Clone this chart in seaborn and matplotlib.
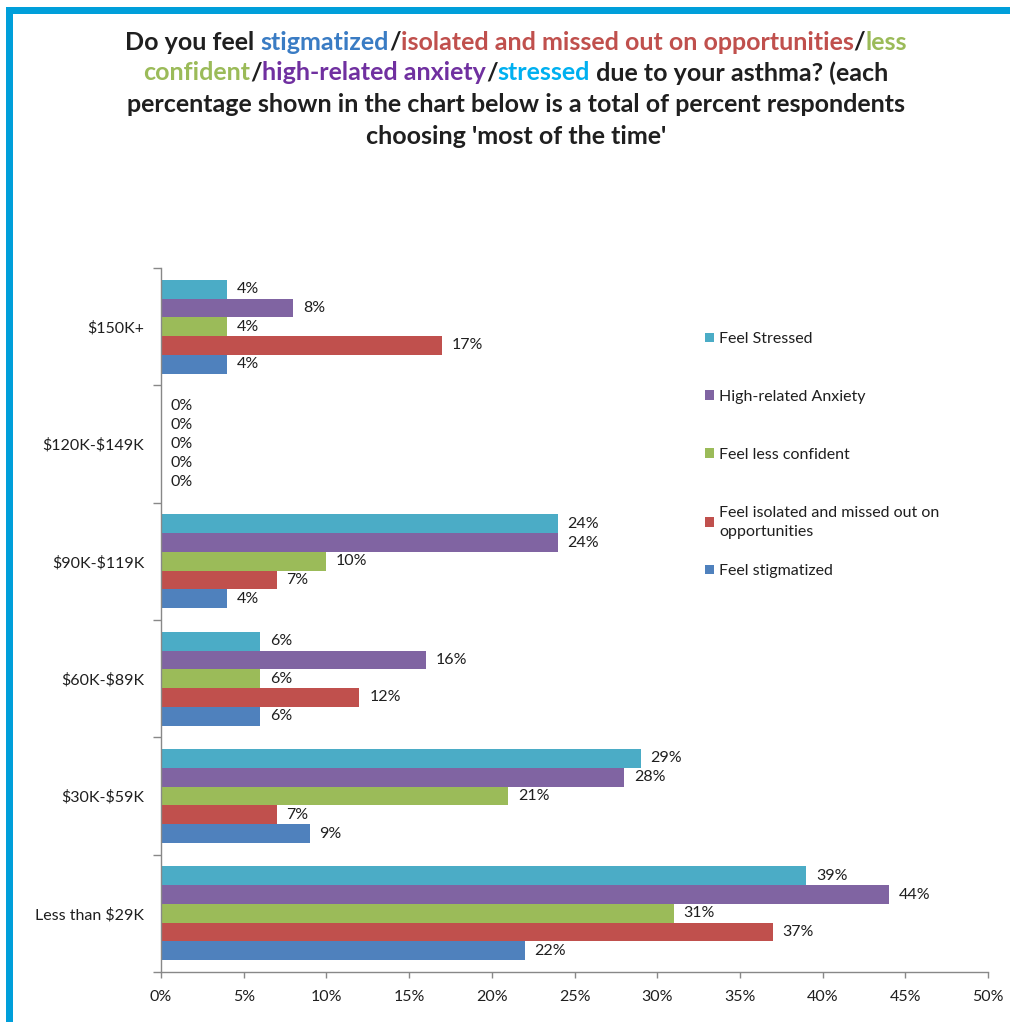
import matplotlib
matplotlib.use("Agg")
import matplotlib.pyplot as plt
from matplotlib.patches import Rectangle
import seaborn as sns
import pandas as pd

# ---- data -------------------------------------------------------------
income_groups = ["$150K+", "$120K-$149K", "$90K-$119K", "$60K-$89K",
                 "$30K-$59K", "Less than $29K"]
series_names = ["Feel Stressed", "High-related Anxiety", "Feel less confident",
                "Feel isolated and missed out on\nopportunities", "Feel stigmatized"]
feel_stressed = [4, 0, 24, 6, 29, 39]
high_anxiety = [8, 0, 24, 16, 28, 44]
less_confident = [4, 0, 10, 6, 21, 31]
isolated_missed = [17, 0, 7, 12, 7, 37]
stigmatized = [4, 0, 4, 6, 9, 22]
x_tick_values = [0, 5, 10, 15, 20, 25, 30, 35, 40, 45, 50]
x_tick_labels = ["0%", "5%", "10%", "15%", "20%", "25%", "30%", "35%", "40%", "45%", "50%"]

series_colors = ["#4BACC6", "#8064A2", "#9BBB59", "#C0504D", "#4F81BD"]
TEXT = "#1f1f1f"
SMALL = 11.5

# ---- style ------------------------------------------------------------
sns.set_theme(style="white")
plt.rcParams["font.family"] = ["Lato", "DejaVu Sans"]
plt.rcParams["text.parse_math"] = False

W, H = 1010, 1022
fig = plt.figure(figsize=(W / 100, H / 100), dpi=100)
fig.patch.set_facecolor("white")

# frame strips along the top and left edges
border = "#009FDA"
fig.add_artist(Rectangle((6 / W, 1 - 14 / H), 1 - 6 / W, 7 / H,
                         transform=fig.transFigure, color=border, lw=0))
fig.add_artist(Rectangle((6 / W, 0), 7 / W, 1 - 7 / H,
                         transform=fig.transFigure, color=border, lw=0))

# ---- bars -------------------------------------------------------------
records = []
for name, vals in zip(series_names, [feel_stressed, high_anxiety, less_confident,
                                     isolated_missed, stigmatized]):
    for grp, v in zip(income_groups, vals):
        records.append({"income": grp, "pct": v, "series": name})
df = pd.DataFrame(records)

ax = fig.add_axes([161 / W, 50 / H, 827 / W, 704 / H])
sns.barplot(data=df, y="income", x="pct", hue="series", orient="h",
            order=income_groups, hue_order=series_names,
            palette=series_colors, saturation=1, width=0.8,
            linewidth=0, ax=ax, errorbar=None)

for cont, vals in zip(ax.containers, [feel_stressed, high_anxiety, less_confident,
                                      isolated_missed, stigmatized]):
    ax.bar_label(cont, labels=[f"{v}%" for v in vals], padding=7,
                 fontsize=SMALL, color=TEXT)

# ---- axes -------------------------------------------------------------
ax.set_xlim(0, 50)
ax.set_ylim(len(income_groups) - 0.5, -0.5)
ax.set_xticks(x_tick_values)
ax.set_xticklabels(x_tick_labels)
ax.set_xlabel("")
ax.set_ylabel("")
ax.set_yticks(range(len(income_groups)))
ax.set_yticklabels(income_groups)
ax.set_yticks([i - 0.5 for i in range(len(income_groups) + 1)], minor=True)
ax.tick_params(axis="y", which="major", length=0, pad=12, labelsize=SMALL,
               labelcolor=TEXT)
ax.tick_params(axis="y", which="minor", length=6, width=1, color="#888888",
               direction="out", left=True)
ax.tick_params(axis="x", which="major", length=4, width=1, color="#888888",
               direction="out", bottom=True, pad=9, labelsize=SMALL,
               labelcolor=TEXT)
for side in ("top", "right"):
    ax.spines[side].set_visible(False)
for side in ("left", "bottom"):
    ax.spines[side].set_color("#888888")
    ax.spines[side].set_linewidth(1)
ax.grid(False)

# legend: four entries in one block, the last entry set a little closer
handles, labels = ax.get_legend_handles_labels()
leg_kw = dict(loc="upper left", bbox_transform=fig.transFigure, frameon=False,
              fontsize=SMALL, labelcolor=TEXT, handlelength=0.55,
              handleheight=0.55, handletextpad=0.35, borderpad=0,
              borderaxespad=0)
leg_top = ax.legend(handles[:4], labels[:4], bbox_to_anchor=(705 / W, 1 - 332 / H),
                    labelspacing=2.75, **leg_kw)
leg_top.get_texts()[3].set_linespacing(1.45)
ax.add_artist(leg_top)
ax.legend(handles[4:], labels[4:], bbox_to_anchor=(705 / W, 1 - 564 / H), **leg_kw)

# ---- multi-coloured title ----------------------------------------------
c_blue, c_red, c_green, c_purple, c_cyan = "#3A7CC4", "#C0504D", "#9BBB59", "#7030A0", "#00B0F0"
title_lines = [
    [("Do you feel ", TEXT), ("stigmatized", c_blue), ("/", TEXT),
     ("isolated and missed out on opportunities", c_red), ("/", TEXT), ("less", c_green)],
    [("confident", c_green), ("/", TEXT), ("high-related anxiety", c_purple), ("/", TEXT),
     ("stressed", c_cyan), (" due to your asthma? (each", TEXT)],
    [("percentage shown in the chart below is a total of percent respondents", TEXT)],
    [("choosing 'most of the time'", TEXT)],
]
title_y = [42, 73, 105, 137]
title_cx = 516
tkw = dict(fontsize=18, fontweight="bold")

fig.canvas.draw()
renderer = fig.canvas.get_renderer()


def ink_width(s):
    t = fig.text(0, 0, s, **tkw)
    w = t.get_window_extent(renderer).width
    t.remove()
    return w


bar_w = ink_width("|")
for line, yc in zip(title_lines, title_y):
    full = "".join(s for s, _ in line)
    total = ink_width(full)
    x0 = title_cx - total / 2
    prefix = ""
    for s, col in line:
        off = 0 if not prefix else ink_width(prefix + "|") - bar_w
        fig.text((x0 + off) / W, 1 - yc / H, s, color=col, ha="left",
                 va="center", **tkw)
        prefix += s

fig.savefig("out.png", dpi=100, facecolor="white")
